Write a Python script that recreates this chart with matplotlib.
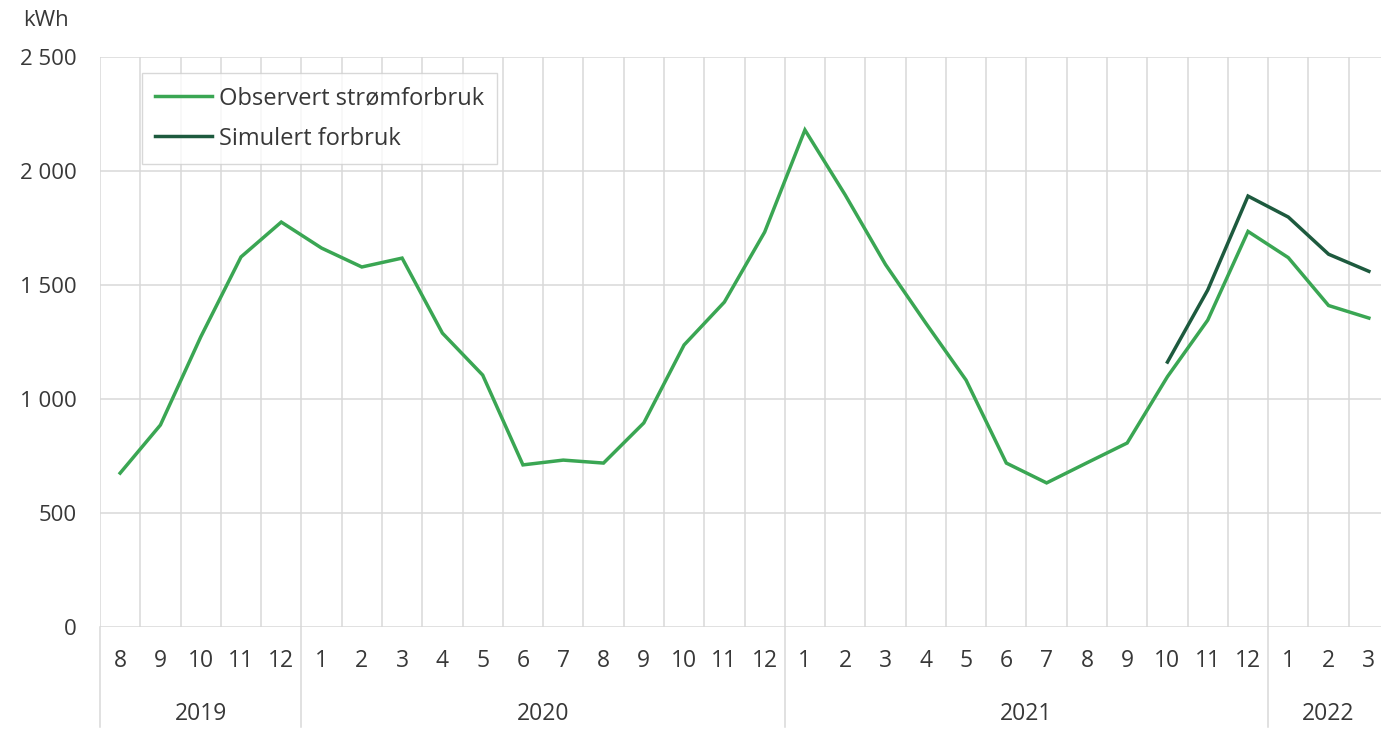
import matplotlib
matplotlib.use("Agg")
import matplotlib.pyplot as plt
import matplotlib.transforms as mtransforms

plt.rcParams['font.family'] = ['Open Sans', 'DejaVu Sans']

months = ["8", "9", "10", "11", "12",
          "1", "2", "3", "4", "5", "6", "7", "8", "9", "10", "11", "12",
          "1", "2", "3", "4", "5", "6", "7", "8", "9", "10", "11", "12",
          "1", "2", "3"]
years = ["2019", "2020", "2021", "2022"]
year_counts = [5, 12, 12, 3]

observed = [675, 886, 1272, 1623, 1776,
            1662, 1579, 1618, 1289, 1105, 711, 732, 719, 895, 1237, 1425, 1732,
            2180, 1895, 1590, 1333, 1083, 719, 632, 720, 807, 1098, 1346, 1735,
            1620, 1410, 1355]
sim_start = 26
simulated = [1162, 1478, 1890, 1798, 1635, 1560]

obs_color = "#3aa653"
sim_color = "#1d5a3e"
grid_color = "#d9d9d9"
text_color = "#383838"

W, H = 1381, 735
fig = plt.figure(figsize=(W / 100, H / 100), dpi=100)
left, right, top, bottom = 100, 1389, 57, 627
ax = fig.add_axes([left / W, 1 - bottom / H, (right - left) / W, (bottom - top) / H])

x = list(range(len(months)))
ax.plot(x, observed, color=obs_color, lw=2.5, label="Observert strømforbruk",
        solid_joinstyle="miter", zorder=3)
ax.plot(x[sim_start:], simulated, color=sim_color, lw=2.5, label="Simulert forbruk",
        solid_joinstyle="miter", zorder=4)

ax.set_xlim(-0.5, len(months) - 0.5)
ax.set_ylim(0, 2500)
ax.set_yticks([0, 500, 1000, 1500, 2000, 2500])
ax.set_yticklabels(["0", "500", "1 000", "1 500", "2 000", "2 500"])
ax.tick_params(axis="y", length=0, pad=17, labelsize=16, labelcolor=text_color)

# vertical category-boundary gridlines
ax.set_xticks([i - 0.5 for i in range(len(months) + 1)], minor=False)
ax.set_xticklabels([])
ax.tick_params(axis="x", length=0)
ax.grid(True, color=grid_color, lw=1.1, zorder=0)
for s in ax.spines.values():
    s.set_visible(False)

trans = mtransforms.blended_transform_factory(ax.transData, ax.transAxes)
axh = bottom - top
for i, m in enumerate(months):
    ax.text(i, -(661 - bottom) / axh, m, transform=trans, ha="center", va="center",
            fontsize=16.5, color=text_color)

start = 0
for yname, cnt in zip(years, year_counts):
    ax.text(start + cnt / 2 - 0.5, -(714 - bottom) / axh, yname, transform=trans,
            ha="center", va="center", fontsize=16.5, color=text_color)
    ax.plot([start - 0.5, start - 0.5], [0, -(727 - bottom) / axh], transform=trans,
            color=grid_color, lw=1.1, clip_on=False)
    start += cnt

fig.text(46 / W, 1 - 20 / H, "kWh", ha="center", va="center", fontsize=16, color=text_color)

leg = ax.legend(loc="upper left", bbox_to_anchor=(142 / W, 1 - 73 / H),
                bbox_transform=fig.transFigure, fontsize=17, frameon=True,
                fancybox=False, edgecolor="#cfcfcf", handlelength=2.4,
                handletextpad=0.3, borderpad=0.55, labelspacing=0.7,
                borderaxespad=0)
leg.get_frame().set_linewidth(1.0)
for t in leg.get_texts():
    t.set_color(text_color)
leg.set_zorder(10)

fig.savefig("out.png", dpi=100, facecolor="white")
